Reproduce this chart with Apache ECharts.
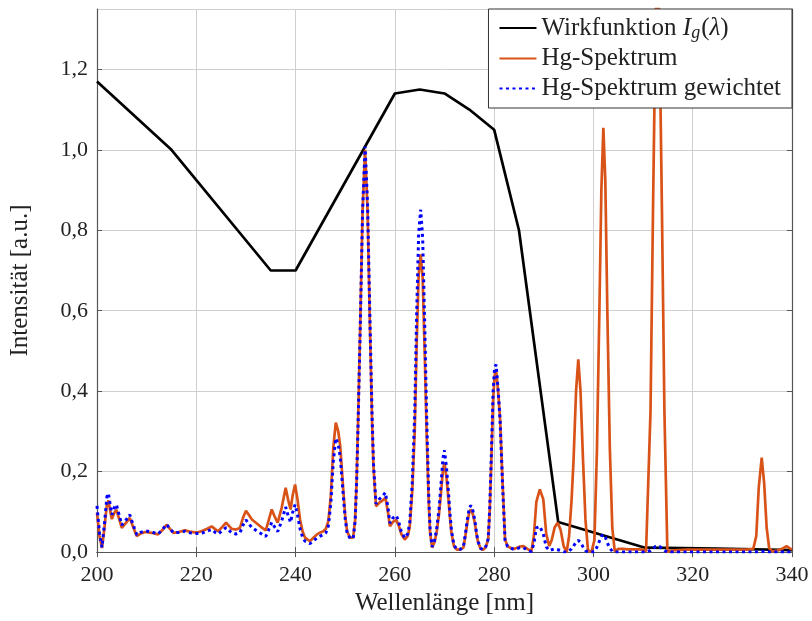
<!DOCTYPE html>
<html>
<head>
<meta charset="utf-8">
<script src="https://cdn.jsdelivr.net/npm/echarts@6/dist/echarts.min.js"></script>
<style>
html,body{margin:0;padding:0;background:#fff;}
#chart{width:812px;height:621px;}
</style>
</head>
<body>
<div id="chart"></div>
<script>
// Wirkfunktion I_g(lambda): wavelengths and values
const wirkX = [200, 215, 235, 240, 260, 265, 270, 275, 280, 285, 292.9, 310.4, 325, 340];
const wirkY = [1.17, 1.0, 0.70, 0.70, 1.14, 1.15, 1.14, 1.10, 1.05, 0.80, 0.075, 0.011, 0.009, 0.005];

// Hg spectrum: wavelengths (nm)
const specX = [200.0,200.5,201.0,201.5,202.0,202.3,202.7,203.0,203.5,203.9,204.4,205.0,205.8,206.6,207.3,208.0,208.8,209.7,211.0,212.3,213.2,214.0,214.7,215.4,216.5,217.7,218.7,219.7,220.5,221.3,222.2,223.1,223.8,224.4,225.2,226.0,226.6,227.1,228.0,228.8,229.4,230.0,230.6,231.2,232.5,233.3,234.0,234.6,235.2,235.8,236.4,237.2,238.0,238.5,239.0,239.4,239.9,240.4,240.9,241.4,241.9,242.9,243.6,244.3,245.0,245.6,246.1,246.6,247.1,247.6,248.1,248.6,249.0,249.6,250.0,250.4,251.0,251.6,252.0,252.3,252.6,253.0,253.5,254.0,254.5,255.0,255.4,255.7,256.2,256.9,257.5,258.1,258.6,259.0,259.6,260.3,260.8,261.3,262.0,262.6,263.0,263.5,264.0,264.4,264.8,265.2,265.6,266.0,266.4,266.8,267.1,267.5,268.0,268.4,268.9,269.3,269.7,270.0,270.4,270.8,271.1,271.4,271.9,272.5,273.2,273.8,274.2,274.6,275.0,275.3,275.7,276.1,276.5,276.8,277.3,277.8,278.3,278.8,279.1,279.4,279.8,280.1,280.4,280.8,281.2,281.7,282.2,282.7,283.2,284.0,284.5,285.2,285.9,286.7,287.5,288.0,288.5,289.2,289.9,290.5,291.1,291.6,292.2,292.8,293.4,294.0,294.6,295.1,295.6,296.0,296.5,296.95,297.4,297.9,298.4,298.9,299.6,300.2,300.7,301.2,301.6,302.0,302.4,302.8,303.3,303.8,304.3,305.0,306.0,307.0,308.0,309.0,310.0,310.6,311.0,311.5,312.0,312.5,312.9,313.3,313.8,314.3,314.9,315.5,317.0,319.0,321.0,323.0,325.0,327.0,329.0,331.0,332.2,332.8,333.3,333.9,334.4,334.9,335.4,336.0,337.0,338.0,338.9,339.5,340.0];

// Hg-Spektrum (raw)
const hgRaw = [0.098,0.040,0.010,0.060,0.120,0.128,0.100,0.082,0.098,0.105,0.085,0.060,0.072,0.085,0.062,0.040,0.046,0.050,0.048,0.044,0.055,0.068,0.058,0.048,0.050,0.054,0.051,0.049,0.050,0.053,0.058,0.064,0.057,0.052,0.062,0.073,0.065,0.058,0.056,0.060,0.085,0.103,0.092,0.081,0.068,0.060,0.054,0.080,0.106,0.088,0.073,0.110,0.160,0.130,0.106,0.140,0.168,0.130,0.081,0.052,0.036,0.027,0.036,0.044,0.049,0.052,0.058,0.077,0.140,0.260,0.322,0.300,0.263,0.156,0.090,0.050,0.036,0.036,0.080,0.180,0.330,0.550,0.850,1.000,0.850,0.550,0.330,0.210,0.114,0.123,0.128,0.135,0.100,0.064,0.075,0.080,0.065,0.045,0.031,0.040,0.064,0.150,0.300,0.520,0.690,0.740,0.680,0.500,0.297,0.130,0.048,0.011,0.025,0.048,0.095,0.148,0.205,0.222,0.185,0.131,0.085,0.048,0.015,0.006,0.006,0.011,0.040,0.073,0.100,0.106,0.095,0.073,0.040,0.023,0.008,0.006,0.012,0.031,0.100,0.214,0.380,0.440,0.452,0.400,0.330,0.172,0.031,0.015,0.011,0.008,0.010,0.014,0.015,0.008,0.002,0.040,0.125,0.156,0.131,0.045,0.015,0.030,0.062,0.073,0.055,0.015,0.000,0.040,0.130,0.230,0.400,0.479,0.400,0.230,0.080,0.005,0.000,0.030,0.250,0.600,0.900,1.055,0.920,0.600,0.260,0.060,0.002,0.008,0.008,0.007,0.007,0.007,0.006,0.002,0.000,0.350,0.850,1.300,1.500,1.300,0.850,0.350,0.000,0.004,0.005,0.006,0.006,0.006,0.006,0.006,0.006,0.006,0.008,0.040,0.160,0.235,0.170,0.060,0.010,0.002,0.004,0.008,0.015,0.010,0.006];

// Hg-Spektrum gewichtet
const hgWeighted = [0.115,0.047,0.012,0.069,0.138,0.146,0.114,0.093,0.111,0.118,0.095,0.067,0.079,0.093,0.067,0.043,0.049,0.053,0.050,0.045,0.056,0.069,0.058,0.048,0.049,0.052,0.048,0.046,0.046,0.048,0.052,0.056,0.049,0.045,0.053,0.061,0.054,0.048,0.045,0.048,0.067,0.080,0.070,0.061,0.050,0.044,0.039,0.056,0.074,0.062,0.051,0.077,0.112,0.091,0.074,0.098,0.118,0.092,0.058,0.038,0.027,0.021,0.028,0.035,0.040,0.043,0.048,0.065,0.120,0.225,0.283,0.267,0.236,0.142,0.083,0.046,0.034,0.034,0.077,0.175,0.322,0.542,0.847,1.008,0.866,0.567,0.343,0.219,0.120,0.132,0.139,0.148,0.111,0.072,0.085,0.091,0.074,0.051,0.035,0.046,0.073,0.172,0.344,0.597,0.794,0.851,0.781,0.574,0.341,0.149,0.055,0.013,0.029,0.055,0.108,0.169,0.234,0.253,0.210,0.149,0.096,0.054,0.017,0.007,0.007,0.012,0.044,0.081,0.110,0.116,0.104,0.079,0.043,0.025,0.009,0.006,0.013,0.033,0.106,0.226,0.400,0.460,0.466,0.404,0.327,0.166,0.029,0.014,0.010,0.007,0.008,0.011,0.011,0.005,0.001,0.021,0.060,0.064,0.045,0.013,0.004,0.006,0.008,0.006,0.004,0.001,0.000,0.003,0.008,0.015,0.025,0.029,0.024,0.013,0.004,0.000,0.000,0.001,0.012,0.027,0.039,0.044,0.037,0.023,0.010,0.002,0.000,0.000,0.000,0.000,0.000,0.000,0.000,0.000,0.000,0.004,0.009,0.014,0.016,0.014,0.009,0.004,0.000,0.000,0.000,0.000,0.000,0.000,0.000,0.000,0.000,0.000,0.000,0.000,0.001,0.002,0.001,0.000,0.000,0.000,0.000,0.000,0.000,0.000,0.000];

const xTicks = {min: 200, max: 340, interval: 20};
const yTicks = {min: 0, max: 1.35, interval: 0.2};

const seriesNames = ['Wirkfunktion', 'Hg-Spektrum', 'Hg-Spektrum gewichtet'];

const FONT = '"Liberation Serif", "DejaVu Serif", serif';
const AXIS_COLOR = '#555';
const GRID_COLOR = '#cfcfcf';
const TEXT_COLOR = '#222';

function pairs(xs, ys) { return xs.map((x, i) => [x, ys[i]]); }

const chart = echarts.init(document.getElementById('chart'), null, {renderer: 'canvas'});

const commonAxisLine = {show: true, lineStyle: {color: AXIS_COLOR, width: 1.2}};
const commonTick = {show: true, inside: true, length: 5, lineStyle: {color: AXIS_COLOR, width: 1}};

chart.setOption({
  animation: false,
  backgroundColor: '#fff',
  grid: {left: 97, right: 20, top: 9, bottom: 68, containLabel: false},
  xAxis: [{
    type: 'value', min: xTicks.min, max: xTicks.max, interval: xTicks.interval,
    position: 'bottom',
    name: 'Wellenlänge [nm]', nameLocation: 'middle', nameGap: 38,
    nameTextStyle: {fontFamily: FONT, fontSize: 25, color: TEXT_COLOR},
    axisLine: commonAxisLine, axisTick: commonTick,
    axisLabel: {fontFamily: FONT, fontSize: 22, color: TEXT_COLOR, margin: 12},
    splitLine: {show: true, lineStyle: {color: GRID_COLOR, width: 1}}
  }, {
    type: 'value', min: xTicks.min, max: xTicks.max, interval: xTicks.interval,
    position: 'top',
    axisLine: commonAxisLine, axisTick: commonTick,
    axisLabel: {show: false}, splitLine: {show: false}
  }],
  yAxis: [{
    type: 'value', min: yTicks.min, max: yTicks.max, interval: yTicks.interval,
    position: 'left',
    name: 'Intensität [a.u.]', nameLocation: 'middle', nameGap: 64,
    nameTextStyle: {fontFamily: FONT, fontSize: 25, color: TEXT_COLOR},
    axisLine: commonAxisLine, axisTick: commonTick,
    axisLabel: {fontFamily: FONT, fontSize: 22, color: TEXT_COLOR, margin: 9, showMaxLabel: false,
      formatter: v => v.toFixed(1).replace('.', ',')},
    splitLine: {show: true, lineStyle: {color: GRID_COLOR, width: 1}}
  }, {
    type: 'value', min: yTicks.min, max: yTicks.max, interval: yTicks.interval,
    position: 'right',
    axisLine: commonAxisLine, axisTick: commonTick,
    axisLabel: {show: false}, splitLine: {show: false}
  }],
  legend: {
    orient: 'vertical', right: 20, top: 9,
    backgroundColor: '#fff', borderColor: '#333', borderWidth: 1, borderRadius: 0,
    padding: [5, 11, 6, 10], itemWidth: 37, itemHeight: 14, itemGap: 3,
    selectedMode: false,
    itemStyle: {opacity: 0},
    textStyle: {
      fontFamily: FONT, fontSize: 25, lineHeight: 27, color: TEXT_COLOR,
      rich: {
        n: {fontFamily: FONT, fontSize: 25, lineHeight: 27, color: TEXT_COLOR},
        i: {fontFamily: FONT, fontSize: 25, lineHeight: 27, fontStyle: 'italic', color: TEXT_COLOR},
        s: {fontFamily: FONT, fontSize: 18, lineHeight: 27, fontStyle: 'italic', color: TEXT_COLOR, padding: [10, 1, 0, 0]}
      }
    },
    formatter: name => name === seriesNames[0]
      ? '{n|Wirkfunktion }{i|I}{s|g}{n|(}{i|λ}{n|)}'
      : name,
    data: seriesNames
  },
  series: [{
    name: seriesNames[0], type: 'line', symbol: 'none', xAxisIndex: 0, yAxisIndex: 0,
    data: pairs(wirkX, wirkY),
    lineStyle: {color: '#000', width: 2.7}, itemStyle: {color: '#000'}, z: 2
  }, {
    name: seriesNames[1], type: 'line', symbol: 'none', xAxisIndex: 0, yAxisIndex: 0,
    data: pairs(specX, hgRaw),
    lineStyle: {color: '#D95319', width: 2.7}, itemStyle: {color: '#D95319'}, z: 3
  }, {
    name: seriesNames[2], type: 'line', symbol: 'none', xAxisIndex: 0, yAxisIndex: 0,
    data: pairs(specX, hgWeighted),
    lineStyle: {color: '#0000FF', width: 3, type: [3, 3.5], cap: 'butt'}, itemStyle: {color: '#0000FF'}, z: 4
  }]
});
</script>
</body>
</html>
